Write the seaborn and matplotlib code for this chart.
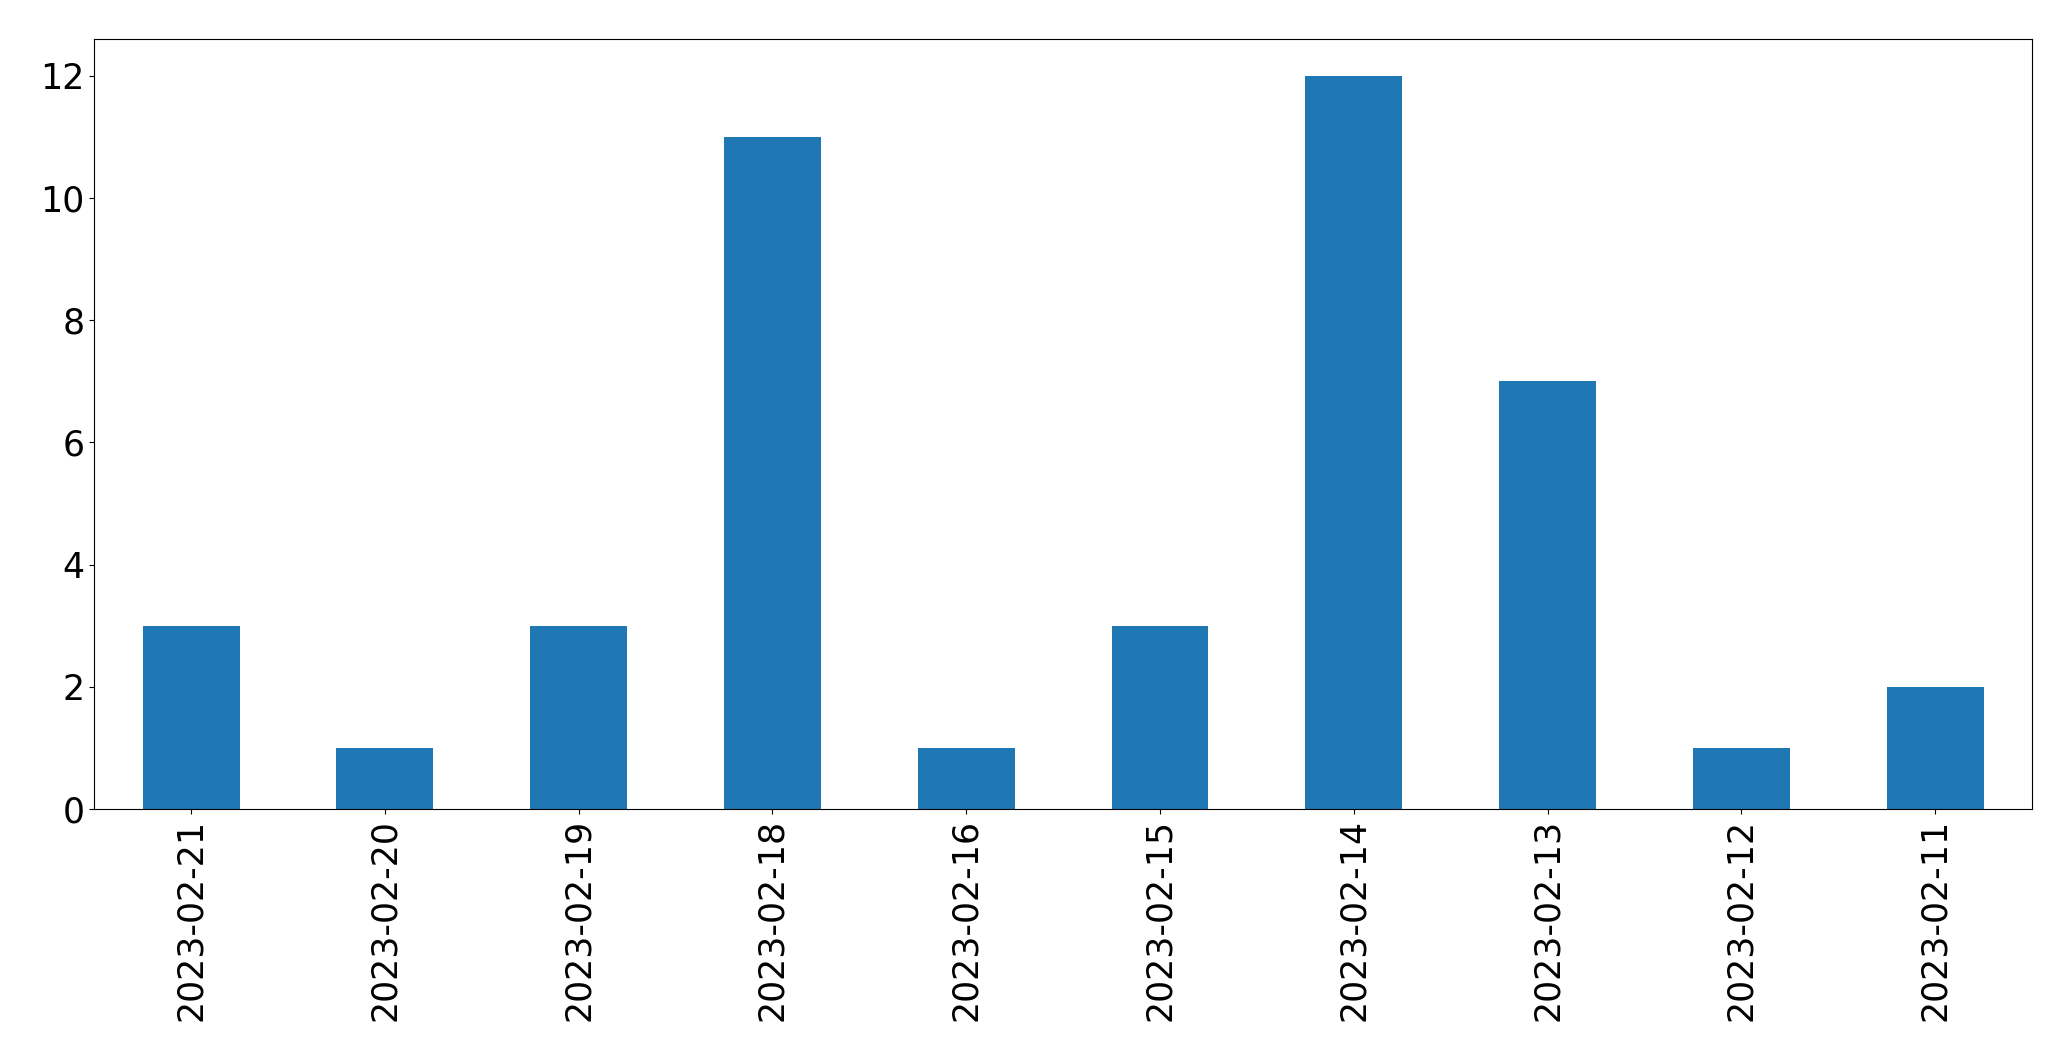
import matplotlib
matplotlib.use("Agg")
import matplotlib.pyplot as plt
import seaborn as sns
import pandas as pd

dates = ["2023-02-21", "2023-02-20", "2023-02-19", "2023-02-18", "2023-02-16",
         "2023-02-15", "2023-02-14", "2023-02-13", "2023-02-12", "2023-02-11"]
counts = [3, 1, 3, 11, 1, 3, 12, 7, 1, 2]

df = pd.DataFrame({"date": dates, "count": counts})

fig = plt.figure(figsize=(20.71, 10.61), dpi=100)
ax = fig.add_axes([0.0455, 0.2375, 0.9357, 0.7255])
sns.barplot(data=df, x="date", y="count", order=dates, color="#1f77b4",
            saturation=1, width=0.5, ax=ax)
ax.set_xlim(-0.5, len(dates) - 0.5)
ax.set_xlabel("")
ax.set_ylabel("")
ax.set_yticks([0, 2, 4, 6, 8, 10, 12])
ax.tick_params(axis="both", labelsize=25)
plt.setp(ax.get_xticklabels(), rotation=90)
fig.savefig("out.png", dpi=100)
